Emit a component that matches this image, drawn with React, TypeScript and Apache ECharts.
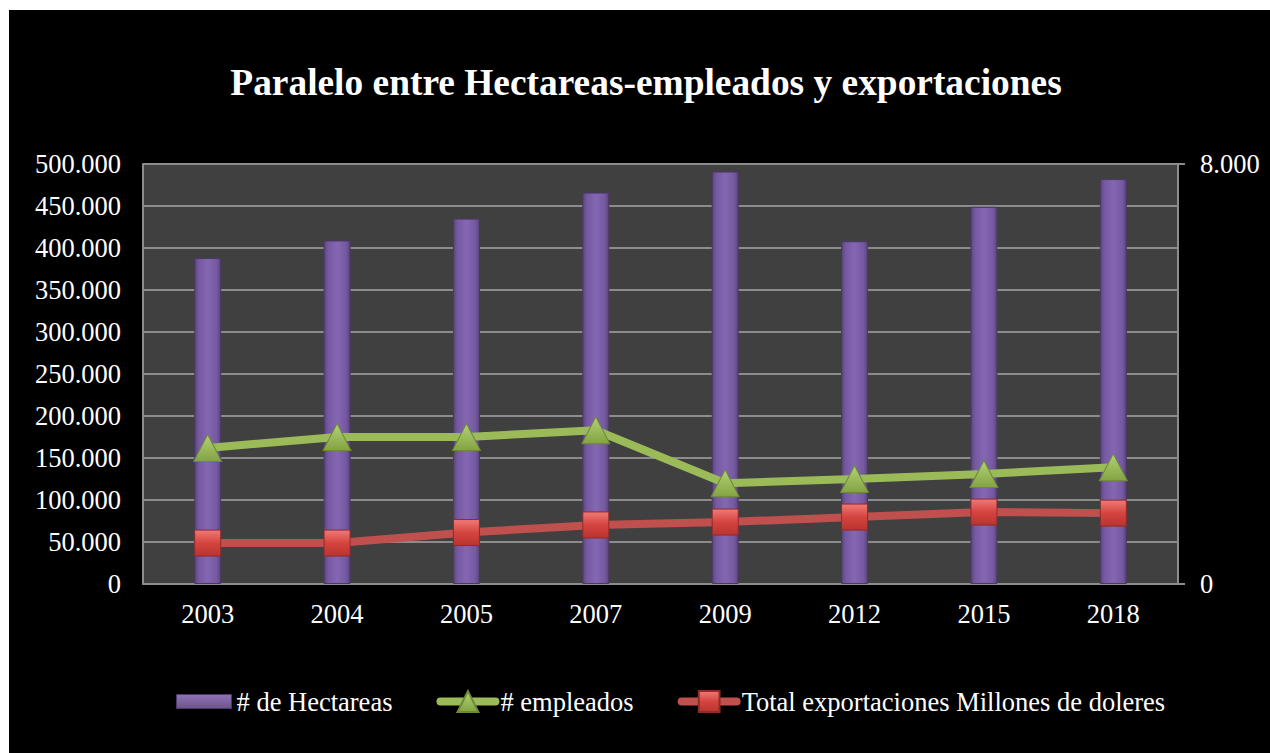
import React, { useEffect, useRef } from "react";
import * as echarts from "echarts";

const categories = ["2003", "2004", "2005", "2007", "2009", "2012", "2015", "2018"];
const hectareas = [388000, 409000, 435000, 466000, 491000, 408000, 449000, 482000];
const empleados = [162000, 175000, 175000, 183000, 120000, 125000, 131000, 139000];
const exportaciones = [780, 780, 980, 1125, 1180, 1275, 1370, 1350];
const seriesNames = ["# de Hectareas", "# empleados", "Total exportaciones Millones de doleres"];
const titleText = "Paralelo entre Hectareas-empleados y exportaciones";

const FONT = "'Liberation Serif', 'Times New Roman', serif";
const FS = 26.5;

function fmt(v: number): string {
  return String(Math.round(v)).replace(/\B(?=(\d{3})+(?!\d))/g, ".");
}

export default function App() {
  const ref = useRef<HTMLDivElement>(null);

  useEffect(() => {
    if (!ref.current) return;
    const chart = echarts.init(ref.current, null, { renderer: "svg" });

    const barColor = new echarts.graphic.LinearGradient(0, 0, 1, 0, [
      { offset: 0, color: "#5a4579" },
      { offset: 0.15, color: "#7459a0" },
      { offset: 0.5, color: "#8566b3" },
      { offset: 0.85, color: "#7459a0" },
      { offset: 1, color: "#5a4579" },
    ]);
    const legendBarColor = new echarts.graphic.LinearGradient(0, 0, 0, 1, [
      { offset: 0, color: "#9a80c8" },
      { offset: 0.5, color: "#8064a2" },
      { offset: 1, color: "#5a4579" },
    ]);
    const greenMarker = new echarts.graphic.LinearGradient(0, 0, 0, 1, [
      { offset: 0, color: "#b4d276" },
      { offset: 1, color: "#83a343" },
    ]);
    const redMarker = new echarts.graphic.LinearGradient(0, 0, 0, 1, [
      { offset: 0, color: "#f07a76" },
      { offset: 0.5, color: "#d5443f" },
      { offset: 1, color: "#b83430" },
    ]);

    chart.setOption({
      animation: false,
      backgroundColor: "#000000",
      graphic: [
        {
          type: "text",
          x: 637,
          y: 72,
          style: {
            text: titleText,
            fill: "#ffffff",
            font: `bold 37.4px ${FONT}`,
            textAlign: "center",
            textVerticalAlign: "middle",
          },
        },
      ],
      legend: {
        left: 167,
        top: 678,
        padding: 0,
        itemWidth: 55,
        itemHeight: 26,
        itemGap: 44,
        lineStyle: { width: 8, cap: "round" },
        textStyle: { color: "#ffffff", fontSize: FS, fontFamily: FONT },
        data: [
          {
            name: seriesNames[0],
            icon: "path://M0,0 L0.01,0 Z M0,6 L55,6 L55,20 L0,20 Z M0,26 L0.01,26 Z",
            itemStyle: { color: legendBarColor, borderColor: "#4a3866", borderWidth: 1 },
          },
          { name: seriesNames[1] },
          { name: seriesNames[2] },
        ],
      },
      grid: {
        left: 134,
        right: 92,
        top: 154,
        bottom: 169,
        show: true,
        backgroundColor: "#404040",
        borderWidth: 0,
        containLabel: false,
      },
      xAxis: {
        type: "category",
        data: categories,
        boundaryGap: true,
        axisLine: { show: true, lineStyle: { color: "#8c8c8c", width: 2 } },
        axisTick: { show: false },
        axisLabel: { color: "#ffffff", fontSize: FS, fontFamily: FONT, margin: 16 },
      },
      yAxis: [
        {
          type: "value",
          min: 0,
          max: 500000,
          interval: 50000,
          axisLine: { show: true, lineStyle: { color: "#8c8c8c", width: 2 } },
          axisTick: { show: false },
          splitLine: { show: true, lineStyle: { color: "#8c8c8c", width: 2 } },
          axisLabel: {
            color: "#ffffff",
            fontSize: FS,
            fontFamily: FONT,
            margin: 22,
            formatter: (v: number) => fmt(v),
          },
        },
        {
          type: "value",
          min: 0,
          max: 8000,
          interval: 8000,
          position: "right",
          axisLine: { show: true, lineStyle: { color: "#8c8c8c", width: 2 } },
          axisTick: { show: true, length: 7, lineStyle: { color: "#8c8c8c", width: 2 } },
          splitLine: { show: false },
          axisLabel: {
            color: "#ffffff",
            fontSize: FS,
            fontFamily: FONT,
            margin: 22,
            formatter: (v: number) => fmt(v),
          },
        },
      ],
      series: [
        {
          name: seriesNames[0],
          type: "bar",
          data: hectareas,
          barWidth: 27,
          yAxisIndex: 0,
          z: 1,
          itemStyle: {
            color: barColor,
            borderColor: "#4a3866",
            borderWidth: 1,
          },
        },
        {
          name: seriesNames[1],
          type: "line",
          data: empleados,
          yAxisIndex: 0,
          z: 3,
          symbol: "triangle",
          symbolSize: [28, 27],
          lineStyle: { color: "#9bbb59", width: 8 },
          itemStyle: { color: greenMarker, borderColor: "#6c8a35", borderWidth: 1 },
        },
        {
          name: seriesNames[2],
          type: "line",
          data: exportaciones,
          yAxisIndex: 1,
          z: 2,
          symbol: "rect",
          symbolSize: 26,
          lineStyle: { color: "#c0504d", width: 8 },
          itemStyle: { color: redMarker, borderColor: "#8e2b28", borderWidth: 1 },
        },
      ],
    });

    return () => chart.dispose();
  }, []);

  return (
    <div
      ref={ref}
      style={{ position: "absolute", left: 9, top: 10, width: 1261, height: 743 }}
    />
  );
}
